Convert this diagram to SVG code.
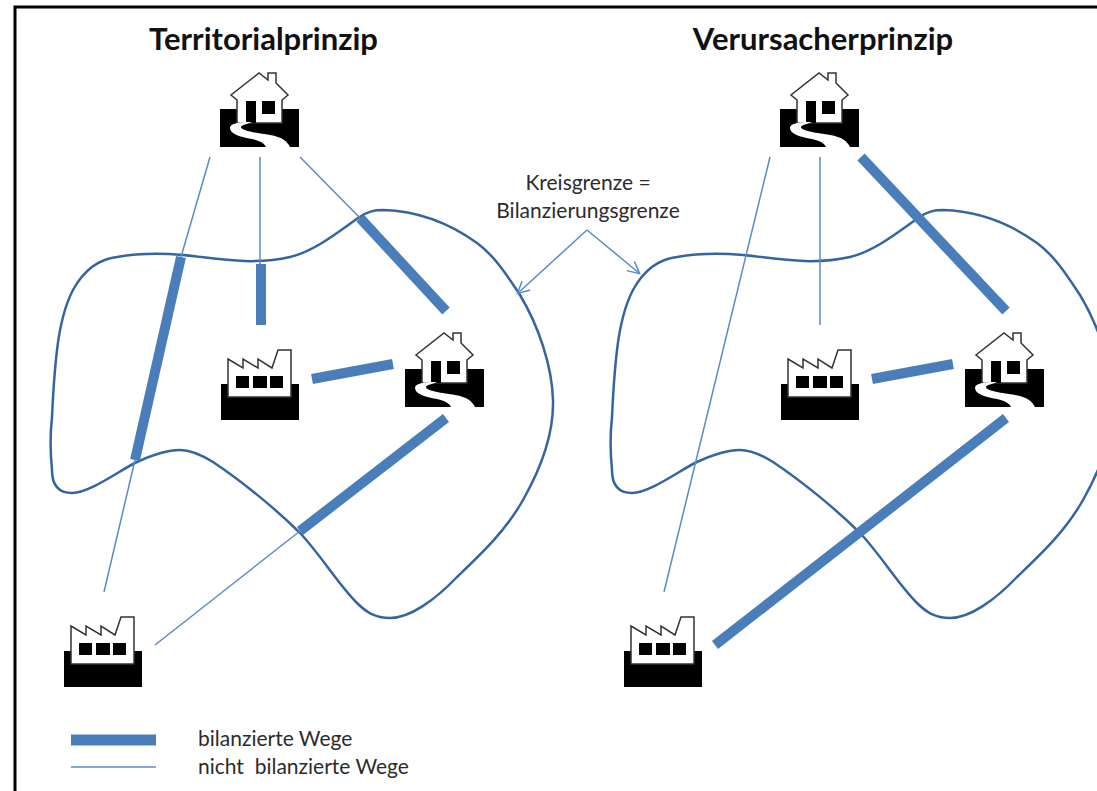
<svg xmlns="http://www.w3.org/2000/svg" width="1097" height="791" viewBox="0 0 1097 791">
<style>
text{font-family:Lato,"Liberation Sans",sans-serif;fill:#2b2b2b}
.title{font-size:31px;font-weight:700;fill:#111;text-anchor:middle}
.lab{font-size:21px}
.thick{stroke:#4a7ebb;stroke-width:10;fill:none}
.thin{stroke:#5b8ac6;stroke-width:1.5;fill:none}
.blob{stroke:#35659e;stroke-width:2.5;fill:none}
.k{fill:#000}
.w{fill:#fff;stroke:#333;stroke-width:1.5}
</style>
<defs>
<path id="b" d="M183 255C215 258 250 266 290 257C315 251 338 232 358 218C368 211 375 210 383 210C420 211 452 225 477 243C495 256 508 277 520 295C538 325 552 365 553 400C554 435 540 470 523 500C505 532 480 555 457 577C435 600 410 618 390 618C375 618 366 612 357 603C338 584 320 554 300 533C275 508 240 480 213 462C200 454 190 450 180 450C165 450 150 456 137 462C120 470 90 493 72 493C58 493 52 485 52 470C50 450 50 435 52 417C53 395 54 375 57 350C60 325 64 307 73 290C85 268 100 259 117 257C140 253 160 253 183 255Z"/>
<g id="house">
<rect class="k" x="220" y="109" width="79" height="38"/>
<path class="w" d="M237 100L231 95L259 73L268 80V73H276V83L288 95L282 100V123H237Z"/>
<rect class="k" x="246" y="101" width="10" height="22"/>
<rect class="k" x="262" y="101" width="13" height="13"/>
<path fill="#fff" d="M250 122C240 122 230 123 230 128C230 134 240 137 252 139C260 141 264 143 266 147H290C287 141 282 137 270 135C258 133 241 131 241 127C241 125 248 124 252 122Z"/>
</g>
<g id="factory">
<rect class="k" x="64" y="651" width="78" height="36"/>
<path class="w" d="M71 626L86 635V626L101 635V626L115 635L121 617H134V664H71Z"/>
<rect class="k" x="79" y="643" width="13" height="12"/>
<rect class="k" x="96" y="643" width="14" height="12"/>
<rect class="k" x="113" y="643" width="13" height="12"/>
</g>
<marker id="open" viewBox="0 0 14 14" refX="12" refY="7" markerWidth="14" markerHeight="14" markerUnits="userSpaceOnUse" orient="auto"><path d="M1 1L13 7L1 13" fill="none" stroke="#5b8ac6" stroke-width="1.5"/></marker>
</defs>
<rect id="frame" x="15" y="7" width="1090" height="800" fill="#fff" stroke="#000" stroke-width="3"/>
<text class="title" x="263.500" y="50">Territorialprinzip</text>
<text class="title" x="823" y="50">Verursacherprinzip</text>
<g id="boundaries">
<use href="#b" class="blob"/>
<use href="#b" x="560" class="blob"/>
</g>
<g id="connectors">
<path class="thin" d="M210 157L181 257M135 460L104 592M260 157V265M300 157L360 218M300 531L155 645"/>
<path class="thick" d="M181 257L135 460M261 264V325M360 218L446 311M312 379L393 364M446 418L300 531"/>
<path class="thin" d="M770 157L664 592M820 157V325"/>
<path class="thick" d="M861 157L1006 311M872 379L953 364M1006 418L715 645"/>
<path class="thin" d="M587 230L518 293" marker-end="url(#open)"/>
<path class="thin" d="M587 230L639 273" marker-end="url(#open)"/>
<path class="thick" d="M71 740H156" style="stroke-width:11"/>
<path class="thin" d="M71 767H156"/>
</g>
<g id="house-1"><use href="#house"/></g>
<g id="house-2"><use href="#house" x="560"/></g>
<g id="house-3"><use href="#house" x="185" y="260"/></g>
<g id="house-4"><use href="#house" x="745" y="260"/></g>
<g id="factory-1"><use href="#factory"/></g>
<g id="factory-2"><use href="#factory" x="560"/></g>
<g id="factory-3"><use href="#factory" x="157" y="-267"/></g>
<g id="factory-4"><use href="#factory" x="717" y="-267"/></g>
<text class="lab" x="588" y="190" text-anchor="middle">Kreisgrenze =</text>
<text class="lab" x="588" y="218" text-anchor="middle">Bilanzierungsgrenze</text>
<text class="lab" x="198" y="746">bilanzierte Wege</text>
<text class="lab" x="198" y="774">nicht&#160; bilanzierte Wege</text>
</svg>
